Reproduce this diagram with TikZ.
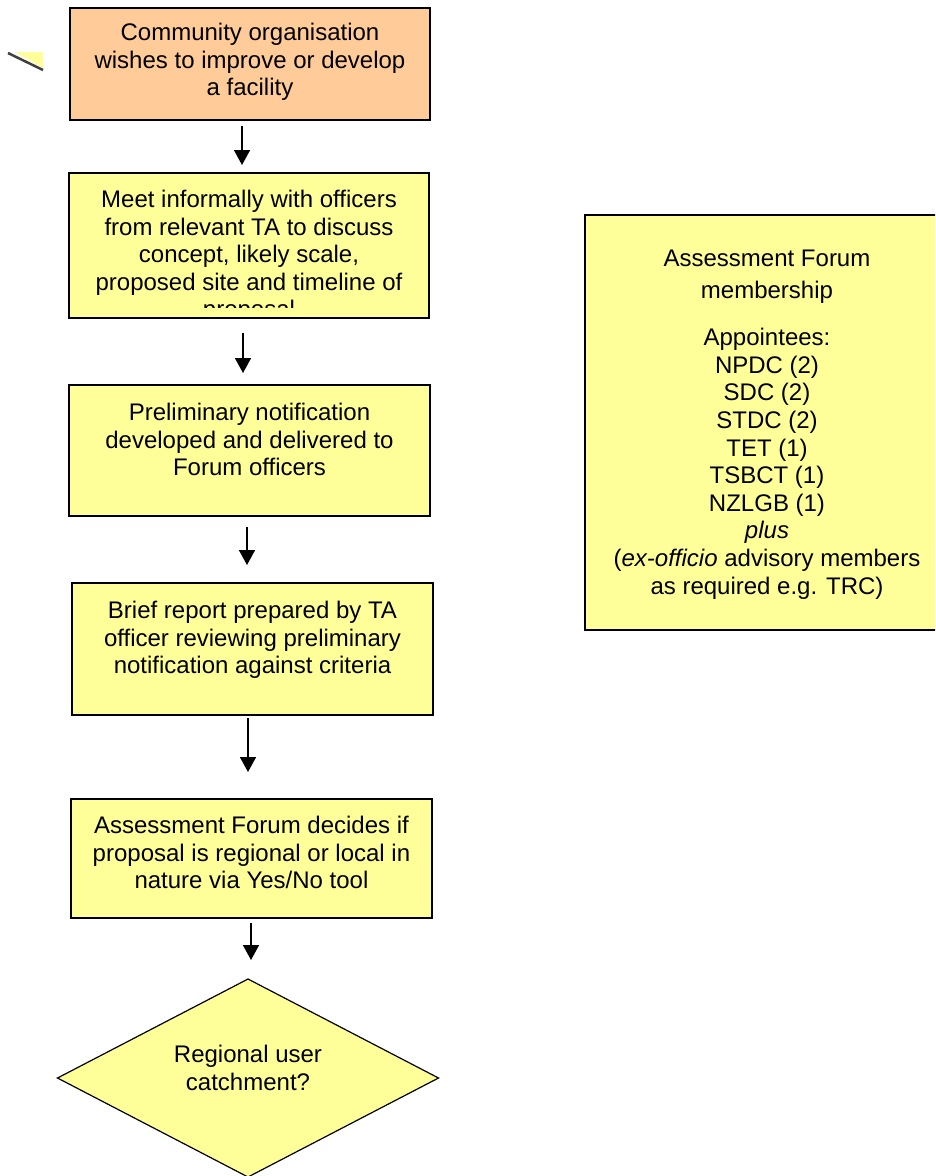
\documentclass[tikz,border=0pt]{standalone}
\usepackage{fontspec}
\setmainfont{Liberation Sans}
\usetikzlibrary{positioning,shapes.geometric,arrows.meta}
\definecolor{boxyellow}{HTML}{FFFF99}
\definecolor{boxorange}{HTML}{FFCC99}
\begin{document}
\begin{tikzpicture}[x=1pt,y=-1pt,
    stepbox/.style={shape=rectangle,draw=black,line width=1.6pt,fill=boxyellow,inner sep=0pt,outer sep=0pt},
    decision/.style={shape=diamond,draw=black,line width=1.2pt,fill=boxyellow,inner sep=0pt,outer sep=0pt,minimum width=381pt,minimum height=198pt},
    boxtext/.style={inner sep=0pt,align=center,font=\fontsize{24}{27.6}\selectfont},
    flow/.style={-{Triangle[length=15pt,width=16pt]},line width=1.6pt}]
    \useasboundingbox (0,0) rectangle (935,1176);
    \clip (0,0) rectangle (935,1176);

    \fill[boxyellow] (15,52) -- (43,52) -- (43,68) -- cycle;
    \draw[line width=2.5pt,black!75] (8,53) -- (43,70);

    \node[stepbox,fill=boxorange,minimum width=360pt,minimum height=112pt] (start) at (250,64) {};
    \node[stepbox,minimum width=360pt,minimum height=145pt] (meet) at (249,245.5) {};
    \node[stepbox,minimum width=361pt,minimum height=131pt] (prelim) at (249.5,450.5) {};
    \node[stepbox,minimum width=361pt,minimum height=132pt] (brief) at (252.5,649) {};
    \node[stepbox,minimum width=361pt,minimum height=119pt] (forum) at (251.5,858.5) {};
    \node[decision] (catch) at (248,1078) {};
    \node[stepbox,minimum width=364pt,minimum height=415pt] (members) at (767,422.5) {};

    \node[boxtext,below=15pt of start.north] (starttext) {Community organisation\\wishes to improve or develop\\a facility};
    \begin{scope}
        \clip ([yshift=11pt]meet.south west) rectangle (meet.north east);
        \node[boxtext,below=17pt of meet.north] (meettext) {Meet informally with officers\\from relevant TA to discuss\\concept, likely scale,\\proposed site and timeline of\\proposal};
    \end{scope}
    \node[boxtext,below=18pt of prelim.north] (prelimtext) {Preliminary notification\\developed and delivered to\\Forum officers};
    \node[boxtext,below=18pt of brief.north] (brieftext) {Brief report prepared by TA\\officer reviewing preliminary\\notification against criteria};
    \node[boxtext,below=17pt of forum.north] (forumtext) {Assessment Forum decides if\\proposal is regional or local in\\nature via Yes/No tool};
    \node[boxtext] (catchtext) at ([yshift=10pt]catch.center) {Regional user\\catchment?};
    \node[boxtext,below=35pt of members.north] (memberstext) {Assessment Forum\\[4.4pt]membership\\[19.4pt]Appointees:\\NPDC (2)\\SDC (2)\\STDC (2)\\TET (1)\\TSBCT (1)\\NZLGB (1)\\\textit{plus}\\(\textit{ex-officio} advisory members\\as required e.g. TRC)};

    \path [flow] ([xshift=-8pt]start.south) edge[shorten <=6pt,shorten >=8pt] ([xshift=-7pt]meet.north);
    \path [flow] ([xshift=-6pt]meet.south) edge[shorten <=15pt,shorten >=12pt] ([xshift=-6.5pt]prelim.north);
    \path [flow] ([xshift=-2.5pt]prelim.south) edge[shorten <=11pt,shorten >=18pt] ([xshift=-5.5pt]brief.north);
    \path [flow] ([xshift=-4.5pt]brief.south) edge[shorten <=3pt,shorten >=27pt] ([xshift=-3.5pt]forum.north);
    \path [flow] ([xshift=-0.5pt]forum.south) edge[shorten <=5pt,shorten >=19pt] ([xshift=3pt]catch.north);
\end{tikzpicture}
\end{document}
